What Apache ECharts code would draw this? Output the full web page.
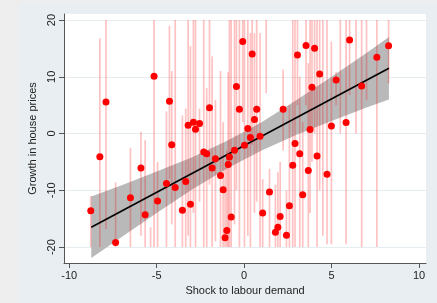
<!DOCTYPE html>
<html>
<head>
<meta charset="utf-8">
<script src="https://cdn.jsdelivr.net/npm/echarts@6/dist/echarts.min.js"></script>
<style>
  html, body { margin: 0; padding: 0; width: 437px; height: 303px; background: #eeeeee; overflow: hidden; }
  #panel { position: absolute; left: 20px; top: 3px; right: 0; bottom: 0; background: #e8eef1; }
  #main { position: absolute; left: 0; top: 0; width: 437px; height: 303px; }
</style>
</head>
<body>
<div id="panel"></div>
<div id="main"></div>
<script>
// tick labels
const xTicks = [-10, -5, 0, 5, 10];
const yTicks = [-20, -10, 0, 10, 20];

// points (shock, growth)
const ptX = [-8.77,-8.25,-7.9,-7.35,-6.5,-5.9,-5.66,-5.15,-4.95,-4.44,-4.27,-4.14,-3.94,-3.53,-3.34,-3.2,-3.07,-2.9,-2.78,-2.55,
  -2.31,-2.14,-1.98,-1.83,-1.64,-1.35,-1.2,-1.09,-0.99,-0.91,-0.84,-0.74,-0.55,-0.44,-0.27,-0.08,0.02,0.21,0.36,0.46,
  0.59,0.72,0.91,1.06,1.45,1.79,1.93,2.06,2.23,2.42,2.59,2.78,2.91,3.05,3.18,3.35,3.54,3.67,3.77,3.88,
  4.03,4.17,4.32,4.74,4.99,5.26,5.83,6.03,6.72,7.59,8.26];
const ptY = [-13.6,-4.07,5.54,-19.2,-11.3,-6.08,-14.3,10.1,-11.9,-8.8,5.7,-1.95,-9.5,-13.5,-8.44,1.47,-12.45,2.0,0.76,1.77,
  -3.25,-3.54,4.53,-6.08,-4.43,-7.38,-9.9,-18.35,-17.06,-5.43,-4.14,-14.7,-2.96,8.3,4.3,16.2,-2.07,0.88,-0.7,14.0,
  2.48,4.3,-0.48,-14.0,-10.3,-17.4,-16.5,-14.6,4.3,-17.9,-12.7,-5.6,-1.77,13.86,-3.54,-10.8,15.5,-6.5,0.7,8.14,
  15.04,-3.96,10.5,-7.15,1.35,9.43,1.95,16.5,8.37,13.45,15.45];

// vertical range bars (x, low, high), cut at +-20
const barX = [-8.77,-8.25,-7.9,-7.35,-6.5,-5.9,-5.66,-5.35,-5.15,-4.95,-4.44,-4.27,-4.14,-3.94,-3.53,-3.34,-3.2,-3.07,-2.9,-2.78,
  -2.55,-2.31,-2.14,-1.98,-1.83,-1.64,-1.35,-1.2,-1.09,-0.99,-0.91,-0.84,-0.74,-0.55,-0.44,-0.27,-0.08,0.02,0.21,0.36,
  0.46,0.59,0.72,0.91,1.06,1.26,1.45,1.79,1.93,2.06,2.23,2.42,2.59,2.78,2.91,3.05,3.18,3.35,3.54,3.67,
  3.77,3.88,4.03,4.17,4.32,4.5,4.74,4.99,5.26,5.5,5.83,6.03,6.4,6.72,7.0,7.59,8.26];
const barLo = [-20,-20,-16.8,-20,-20,-18,-20,-20,-20,-20,-20,-8,-16,-20,-20,-20,-18,-20,-14,-20,
  -12,-20,-20,-9,-20,-19,-20,-20,-20,-20,-20,-20,-20,-16,-10,-20,2,-20,-18,-20,
  -2,-14,-12,-20,-20,7.1,-20,-20,-20,-20,-3,-20,-20,-20,-20,5,-20,-20,5,-20,
  -14,-5,0,-20,-10,-18,-19.5,-19.5,5,0,-19.5,6.8,0,-20,5.9,-20,8.85];
const barHi = [-11,16.8,20,-8.6,-2.5,0.3,-1.2,-16.5,20,-5,3.9,19,11,20,3.2,4.4,20,15.4,20,20,
  4.4,20,8,20,13.6,5.9,11,2,-6,-3,10.8,20,20,20,20,20,20,20,20,17.7,
  20,17.7,20,17.7,-8,20,-6.2,-9,-6.8,-5,11.3,-10,5,20,20,20,10,2,20,12.4,
  20,20,20,20,20,20,20,16.2,10.9,20,20,20,20,20,20,20,20];

// fitted line and its confidence band
const fitX = [-8.74, 8.28];
const fitY = [-16.5, 11.5];
const bandX  = [-8.74, -7, -5, -3, -1, 1, 3, 5, 7, 8.28];
const bandLo = [-21.9, -18.2, -14.0, -9.9, -6.2, -3.0, -0.2, 2.2, 4.6, 6.0];
const bandHi = [-11.1, -9.1, -6.7, -4.2, -1.3, 2.0, 5.9, 10.0, 14.2, 17.0];

const font = '"Liberation Sans", Arial, sans-serif';
const chart = echarts.init(document.getElementById('main'));

chart.setOption({
  animation: false,
  grid: {
    left: 64, right: 11, top: 14, bottom: 40,
    show: true, backgroundColor: '#ffffff', borderWidth: 0
  },
  xAxis: {
    type: 'value', min: -10.3, max: 10.4,
    name: 'Shock to labour demand', nameLocation: 'middle', nameGap: 20,
    nameTextStyle: { color: '#222', fontSize: 11, fontFamily: font },
    axisLine: { show: true, onZero: false, lineStyle: { color: '#555', width: 1 } },
    axisTick: { show: true, length: 5, customValues: xTicks, lineStyle: { color: '#555' } },
    axisLabel: { customValues: xTicks, color: '#222', fontSize: 11, fontFamily: font, margin: 7 },
    splitLine: { show: false }
  },
  yAxis: {
    type: 'value', min: -22.8, max: 21.06,
    name: 'Growth in house prices', nameLocation: 'middle', nameRotate: 90, nameGap: 17,
    nameTextStyle: { color: '#222', fontSize: 11, fontFamily: font },
    axisLine: { show: true, onZero: false, lineStyle: { color: '#555', width: 1 } },
    axisTick: { show: true, length: 5, customValues: yTicks, lineStyle: { color: '#555' } },
    axisLabel: { customValues: yTicks, rotate: 90, color: '#222', fontSize: 11, fontFamily: font, margin: 7 },
    splitLine: { show: true, lineStyle: { color: '#e6edf0', width: 1 } }
  },
  series: [
    {
      // confidence band
      type: 'custom',
      z: 1,
      data: bandX.map((x, i) => [x, bandLo[i], bandHi[i]]),
      encode: { x: 0, y: [1, 2] },
      renderItem: function (params, api) {
        if (params.dataIndex !== 0) return;
        const pts = [];
        for (let i = 0; i < bandX.length; i++) pts.push(api.coord([bandX[i], bandHi[i]]));
        for (let i = bandX.length - 1; i >= 0; i--) pts.push(api.coord([bandX[i], bandLo[i]]));
        return { type: 'polygon', shape: { points: pts }, style: { fill: '#b9b9b9' } };
      }
    },
    {
      // range bars
      type: 'custom',
      z: 2,
      data: barX.map((x, i) => [x, barLo[i], barHi[i]]),
      encode: { x: 0, y: [1, 2] },
      renderItem: function (params, api) {
        const a = api.coord([api.value(0), api.value(1)]);
        const b = api.coord([api.value(0), api.value(2)]);
        return {
          type: 'line',
          shape: { x1: a[0], y1: a[1], x2: b[0], y2: b[1] },
          style: { stroke: 'rgba(255,0,0,0.24)', lineWidth: 1.7 }
        };
      }
    },
    {
      type: 'line',
      z: 3,
      data: fitX.map((x, i) => [x, fitY[i]]),
      symbol: 'none',
      lineStyle: { color: '#000', width: 1.6 }
    },
    {
      type: 'scatter',
      z: 4,
      data: ptX.map((x, i) => [x, ptY[i]]),
      symbolSize: 7,
      itemStyle: { color: '#ff0000', opacity: 1 }
    }
  ]
});
</script>
</body>
</html>
